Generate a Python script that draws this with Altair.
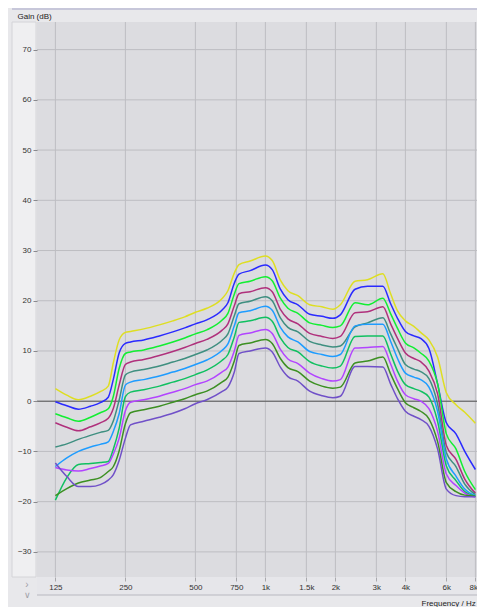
import altair as alt
import pandas as pd

freq = [125, 140, 157, 177, 195, 211, 222, 235, 250, 263, 300, 350, 400, 450, 500, 560,
        650, 690, 735, 770, 860, 1000, 1070, 1160, 1250, 1380, 1550, 1750, 1950, 2100,
        2430, 2750, 3200, 3450, 3700, 4000, 4350, 4650, 5050, 5500, 6000, 6600, 7200, 8000]

yellow = [2.5, 1.2, 0.3, 1.0, 1.9, 3.0, 7.7, 12.2, 13.7, 13.9, 14.4, 15.2, 16.0, 16.8, 17.7, 18.5,
          20.4, 22.0, 25.5, 27.2, 27.9, 28.9, 28.0, 24.1, 22.0, 21.0, 19.2, 18.8, 18.3, 19.2,
          23.9, 24.2, 25.4, 21.5, 18.0, 16.0, 14.9, 13.7, 12.2, 8.8, 1.7, -0.7, -2.2, -4.4]
blue = [-0.1, -0.9, -1.6, -1.0, -0.3, 0.8, 4.4, 9.6, 11.5, 11.8, 12.2, 13.0, 13.8, 14.6, 15.4, 16.2,
        18.1, 19.6, 23.5, 25.3, 26.0, 27.1, 26.2, 22.3, 20.2, 19.2, 17.3, 16.9, 16.5, 17.2,
        22.3, 22.9, 22.9, 19.5, 16.5, 13.9, 13.0, 12.5, 10.5, 3.5, -4.3, -6.5, -10.0, -13.6]
green = [-2.5, -3.3, -4.0, -3.2, -2.3, -1.5, 1.0, 6.5, 9.5, 9.8, 10.2, 11.0, 11.8, 12.6, 13.4, 14.2,
         16.1, 17.5, 21.3, 23.4, 23.9, 24.8, 24.0, 20.5, 18.5, 17.5, 15.6, 15.1, 14.7, 15.0,
         19.6, 19.2, 20.5, 17.5, 14.5, 11.6, 10.6, 9.6, 8.0, 3.5, -6.5, -9.5, -14.0, -17.6]
magenta = [-4.3, -5.2, -5.9, -5.1, -4.3, -3.4, -1.4, 3.2, 7.3, 7.8, 8.3, 9.1, 9.9, 10.7, 11.5, 12.3,
           14.1, 15.4, 19.0, 21.4, 21.8, 22.6, 21.8, 18.3, 16.4, 15.4, 13.5, 12.9, 12.5, 12.9,
           17.6, 17.8, 18.8, 15.5, 12.5, 9.6, 8.5, 7.9, 6.0, 1.5, -8.8, -11.6, -15.5, -18.3]
teal = [-9.1, -8.5, -7.6, -6.8, -6.2, -5.8, -3.9, 0.2, 5.2, 5.8, 6.3, 7.0, 7.8, 8.5, 9.3, 10.2,
        12.1, 13.4, 17.0, 19.4, 19.9, 20.8, 20.0, 16.6, 14.7, 13.8, 11.9, 11.2, 10.8, 11.0,
        14.8, 15.6, 16.6, 13.5, 10.5, 7.3, 6.4, 5.9, 4.5, -0.5, -10.2, -13.0, -16.5, -18.6]
sky = [-13.0, -11.3, -10.0, -9.1, -8.6, -8.1, -6.0, -2.5, 3.2, 3.8, 4.3, 5.0, 5.8, 6.5, 7.3, 8.2,
       10.1, 11.4, 15.0, 17.6, 18.0, 18.9, 18.1, 14.7, 12.8, 11.8, 9.9, 9.3, 8.9, 9.3,
       15.0, 15.3, 15.3, 12.0, 8.5, 5.6, 4.8, 4.3, 2.8, -2.0, -11.5, -14.9, -17.5, -18.8]
green2 = [-19.7, -15.2, -12.6, -12.4, -12.2, -12.0, -9.5, -5.4, 0.9, 1.8, 2.3, 3.0, 3.8, 4.5, 5.3, 6.2,
          8.1, 9.3, 12.8, 15.7, 16.0, 16.7, 15.9, 12.6, 10.7, 9.8, 7.9, 7.0, 6.6, 7.0,
          12.9, 13.0, 13.0, 9.5, 6.0, 3.3, 2.5, 2.0, 0.8, -4.0, -12.9, -15.8, -18.0, -18.9]
violet = [-13.2, -13.7, -13.9, -13.4, -12.9, -12.4, -10.5, -7.4, -1.9, -0.2, 0.3, 1.0, 1.8, 2.5, 3.3, 4.0,
          5.8, 6.8, 10.0, 13.1, 13.6, 14.3, 13.5, 10.3, 8.4, 7.5, 5.6, 4.5, 4.0, 4.3,
          10.6, 10.7, 10.9, 7.5, 4.0, 1.3, 0.5, 0.0, -1.5, -6.0, -14.5, -16.8, -18.3, -19.1]
dkgreen = [-18.8, -17.4, -16.3, -15.7, -15.2, -14.0, -13.0, -9.9, -4.5, -2.3, -1.7, -1.0, -0.2, 0.5, 1.3, 2.0,
           3.8, 4.8, 8.0, 11.1, 11.6, 12.3, 11.5, 8.5, 6.7, 5.9, 4.0, 3.0, 2.6, 2.8,
           7.6, 8.0, 8.8, 5.5, 2.5, -0.3, -1.3, -2.0, -3.5, -8.0, -16.2, -18.0, -18.7, -18.9]
purple = [-12.3, -15.0, -17.0, -17.0, -16.6, -15.7, -14.6, -11.8, -7.4, -4.7, -4.0, -3.2, -2.4, -1.5, -0.5, 0.3,
          1.9, 2.8, 5.8, 9.5, 10.0, 10.6, 9.8, 6.8, 4.9, 4.0, 2.0, 1.1, 0.7, 1.0,
          6.9, 6.9, 6.8, 3.5, 0.5, -2.0, -3.0, -3.6, -5.0, -9.5, -17.5, -18.8, -19.0, -19.0]

series_names = ["yellow", "blue", "green", "magenta", "teal", "sky", "green2", "violet", "dkgreen", "purple"]
series_vals = [yellow, blue, green, magenta, teal, sky, green2, violet, dkgreen, purple]
series_colors = ["#dede22", "#2a2aff", "#12ee32", "#b0307c", "#3f8f80", "#1e9cff",
                 "#10c060", "#b244ff", "#3c9022", "#7050c8"]

x_ticks = [125, 250, 500, 750, 1000, 1500, 2000, 3000, 4000, 6000, 8000]
y_ticks = [-30, -20, -10, 0, 10, 20, 30, 40, 50, 60, 70]

rows = []
for name, vals in zip(series_names, series_vals):
    for f, v in zip(freq, vals):
        rows.append({"series": name, "freq": f, "gain": v})
df = pd.DataFrame(rows)

W, H = 440, 555
FONT = "Liberation Sans"

xscale = alt.Scale(type="log", domain=[104.2, 8128], nice=False)
yscale = alt.Scale(domain=[-35, 75.5], nice=False, zero=False)

xaxis = alt.Axis(values=x_ticks, title="Frequency / Hz",
                 labelExpr="datum.value >= 1000 ? (datum.value/1000) + 'k' : datum.value",
                 labelAlign={"expr": "datum.value == 8000 ? 'right' : 'center'"},
                 labelOffset={"expr": "datum.value == 8000 ? 2 : 0"},
                 grid=False, domain=False, zindex=1,
                 tickSize=4, tickColor="#a8a8ac", labelPadding=2,
                 labelFontSize=8, labelColor="#333333", labelFont=FONT,
                 titleFontSize=8, titleFont=FONT, titleColor="#222222", titleFontWeight="normal",
                 titleX=384, titleY=26, titleAlign="left", titleBaseline="middle")
yaxis = alt.Axis(values=y_ticks, title="Gain (dB)", grid=False, domain=False, zindex=1,
                 tickSize=4, tickColor="#8a8a8e",
                 labelPadding=2, labelFontSize=8, labelColor="#333333", labelFont=FONT,
                 titleFontSize=8, titleFont=FONT, titleColor="#222222", titleFontWeight="normal",
                 titleAngle=0, titleX=-20, titleY=-2, titleAlign="left", titleBaseline="bottom")

one = pd.DataFrame({"a": [0]})
left_panel = alt.Chart(one).mark_rect(fill="#efeff1", stroke="#d4d4d8", strokeWidth=1).encode(
    x=alt.value(-25), x2=alt.value(-1), y=alt.value(0), y2=alt.value(H))
bottom_strip = alt.Chart(one).mark_rect(fill="#e6e6ea").encode(
    x=alt.value(0), x2=alt.value(W), y=alt.value(H), y2=alt.value(H + 18))
bottom_line = alt.Chart(one).mark_rule(color="#b8b8c0", strokeWidth=1).encode(
    x=alt.value(0), x2=alt.value(W), y=alt.value(H + 18))
top_line = alt.Chart(one).mark_rule(color="#a6a6c8", strokeWidth=1).encode(
    x=alt.value(-25), x2=alt.value(W), y=alt.value(-13))
chev1 = alt.Chart(one).mark_text(text="›", fontSize=10, color="#a0a0a8").encode(
    x=alt.value(-10), y=alt.value(H + 8))
chev2 = alt.Chart(one).mark_text(text="∨", fontSize=9, color="#a0a0a8").encode(
    x=alt.value(-10), y=alt.value(H + 18))

vgrid = alt.Chart(pd.DataFrame({"freq": x_ticks})).mark_rule(color="#bdbdc2", strokeWidth=1).encode(
    x=alt.X("freq:Q", scale=xscale, axis=xaxis), y=alt.value(0), y2=alt.value(H))
hgrid = alt.Chart(pd.DataFrame({"gain": y_ticks})).mark_rule(color="#bdbdc2", strokeWidth=1).encode(
    y=alt.Y("gain:Q", scale=yscale, axis=yaxis), x=alt.value(0), x2=alt.value(W))
zero_line = alt.Chart(pd.DataFrame({"gain": [0]})).mark_rule(color="#555555", strokeWidth=1).encode(
    y=alt.Y("gain:Q", scale=yscale), x=alt.value(0), x2=alt.value(W))

lines = alt.Chart(df).mark_line(strokeWidth=1.5, interpolate="monotone").encode(
    x=alt.X("freq:Q", scale=xscale),
    y=alt.Y("gain:Q", scale=yscale),
    color=alt.Color("series:N", scale=alt.Scale(domain=series_names, range=series_colors), legend=None),
    detail="series:N",
)

chart = alt.layer(left_panel, bottom_strip, bottom_line, top_line, chev1, chev2,
                  vgrid, hgrid, zero_line, lines).properties(
    width=W, height=H, padding={"left": 29, "top": 14, "right": 0, "bottom": 30},
    autosize=alt.AutoSizeParams(type="none"), background="#e8e8eb",
).configure_view(fill="#dcdce0", stroke=None)

chart.save("out.html", embed_options={"renderer": "svg", "actions": False})
